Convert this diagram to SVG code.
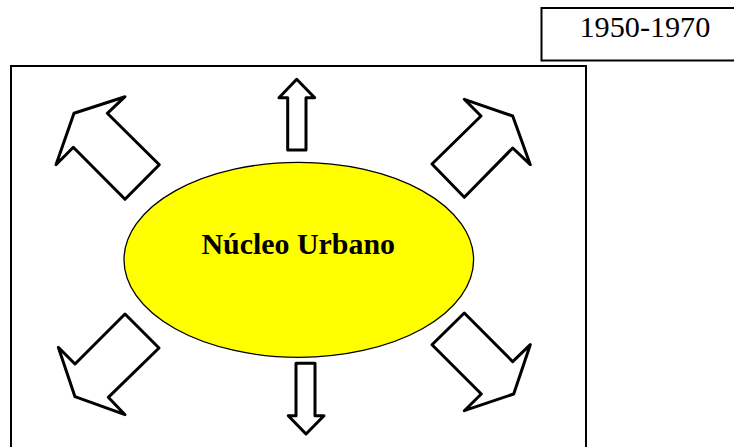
<svg xmlns="http://www.w3.org/2000/svg" width="734" height="447" viewBox="0 0 734 447">
<style>
.box{fill:#fff;stroke:#000;stroke-width:2}
.arrow{fill:#fff;stroke:#000;stroke-width:3;stroke-linejoin:round}
.t{font-family:"Liberation Serif","Times New Roman",serif;fill:#000}
</style>
<rect width="734" height="447" fill="#fff"/>
<g id="date">
<rect class="box" x="541.5" y="8" width="200" height="52.5" stroke-width="1.5"/>
<text class="t" x="579.5" y="36.5" font-size="30.2">1950-1970</text>
</g>
<g id="frame">
<rect class="box" x="11" y="66" width="575" height="400"/>
</g>
<g id="connectors">
<polygon class="arrow" points="296.7,79.3 314.7,97.7 306,97.7 306,150 287.7,150 287.7,97.7 279,97.7"/>
<polygon class="arrow" points="296,363.3 315,363.3 315,415.7 324,415.7 306,434 288.3,415.7 296,415.7"/>
<polygon class="arrow" points="125,96.7 74,113.3 56,164.7 73.3,147.3 125,199.3 159.3,164.7 107.3,113.3"/>
<polygon class="arrow" points="464.3,99.3 512.7,116 530.3,164.7 512.7,148 464.3,197.3 432,164 481,116"/>
<polygon class="arrow" points="125,314 159,348 108.3,397.3 125,414.7 75,396.7 58.3,347.3 75,364"/>
<polygon class="arrow" points="464.3,313 512.7,361.7 530.3,344.7 513.7,394 464.3,410.7 481.3,394 432,344.7"/>
</g>
<g id="nucleo">
<ellipse cx="298.8" cy="259.8" rx="174.8" ry="97.5" fill="#ffff00" stroke="#000" stroke-width="1.3"/>
<text class="t" x="201.5" y="254" font-size="29.9" font-weight="bold">Núcleo Urbano</text>
</g>
</svg>
